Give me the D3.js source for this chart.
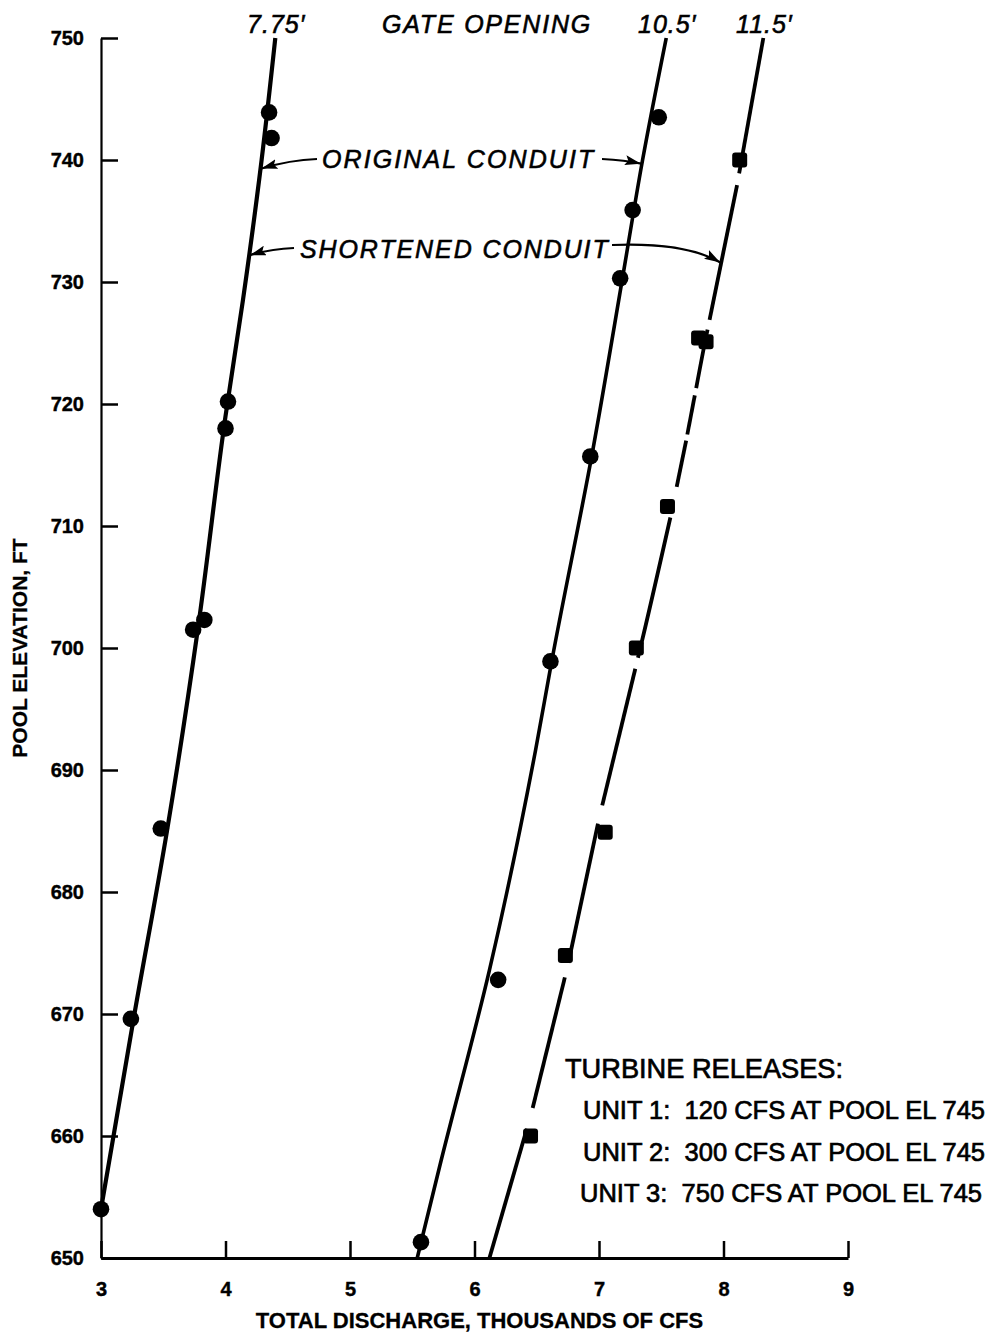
<!DOCTYPE html>
<html>
<head>
<meta charset="utf-8">
<script src="https://cdn.jsdelivr.net/npm/d3@7"></script>
<style>
  html, body { margin: 0; padding: 0; background: #fff; }
  svg { display: block; }
  text { font-family: "Liberation Sans", Arial, Helvetica, sans-serif; fill: #000; }
</style>
</head>
<body>
<svg id="chart" width="991" height="1333"></svg>
<script>
// ---------------- DATA ----------------
const xTicks = [3, 4, 5, 6, 7, 8, 9];
const yTicks = [650, 660, 670, 680, 690, 700, 710, 720, 730, 740, 750];

// Observed points (thousands of cfs, pool elevation ft)
const orig775X = [4.35, 4.37, 4.02, 4.00, 3.83, 3.74, 3.48, 3.24, 3.00];
const orig775Y = [743.9, 741.8, 720.2, 718.0, 702.3, 701.5, 685.2, 669.6, 654.0];

const orig105X = [7.48, 7.27, 7.17, 6.93, 6.61, 6.19, 5.57];
const orig105Y = [743.5, 735.9, 730.3, 715.7, 698.9, 672.8, 651.3];

const short115X = [8.13, 7.80, 7.86, 7.55, 7.30, 7.05, 6.73, 6.45];
const short115Y = [740.0, 725.4, 725.1, 711.6, 700.0, 684.9, 674.8, 660.0];

// Rating curves (as drawn)
const fit775X = [3.00, 3.26, 3.53, 3.78, 4.00, 4.14, 4.29, 4.40];
const fit775Y = [654.0, 669.5, 685.0, 701.7, 719.0, 728.5, 740.0, 750.0];

const fit105X = [5.54, 5.72, 6.12, 6.49, 6.62, 6.95, 7.19, 7.35, 7.54];
const fit105Y = [650.0, 657.5, 673.6, 691.6, 698.9, 716.2, 730.4, 740.0, 750.0];

const fit115X = [6.12, 6.46, 6.75, 7.00, 7.32, 7.58, 7.70, 7.85, 8.11, 8.32];
const fit115Y = [650.0, 662.0, 674.0, 686.0, 699.5, 711.0, 717.0, 725.0, 738.0, 750.0];

// Breaks in the 11.5' curve (elevation ranges, ft)
const gap115Lo = [737.95, 726.1, 720.7, 717.0, 710.7, 698.3, 685.6, 673.0, 660.6];
const gap115Hi = [738.9, 726.9, 721.3, 717.5, 713.2, 699.2, 687.1, 674.2, 662.3];

const gateLabels = ["7.75\u2032", "10.5\u2032", "11.5\u2032"];
const legendTitle = "TURBINE RELEASES:";
const legendLines = [
  "UNIT 1:  120 CFS AT POOL EL 745",
  "UNIT 2:  300 CFS AT POOL EL 745",
  "UNIT 3:  750 CFS AT POOL EL 745"
];

// ---------------- SCALES ----------------
const svg = d3.select("#chart");
const x = d3.scaleLinear().domain([3, 9]).range([101, 848]);
const y = d3.scaleLinear().domain([650, 750]).range([1258, 38]);

const zip = (xs, ys) => xs.map((v, i) => [v, ys[i]]);
// x on a curve at a given elevation (linear between drawn anchors)
function xAt(xs, ys, e) {
  for (let i = 0; i < ys.length - 1; i++) {
    const a = ys[i], b = ys[i + 1];
    if ((e - a) * (e - b) <= 0) {
      const t = (e - a) / (b - a);
      return xs[i] + t * (xs[i + 1] - xs[i]);
    }
  }
  return e < ys[0] ? xs[0] : xs[xs.length - 1];
}

const line = d3.line().x(d => x(d[0])).y(d => y(d[1])).curve(d3.curveMonotoneY);

// ---------------- AXES ----------------
const yAxis = d3.axisLeft(y).tickValues(yTicks).tickSize(-17).tickSizeOuter(0).tickPadding(17);
const gy = svg.append("g").attr("transform", `translate(${x(3)},0)`).call(yAxis);
gy.select(".domain").attr("stroke", "#000").attr("stroke-width", 2.2);
gy.selectAll(".tick line").attr("stroke", "#000").attr("stroke-width", 2.5);
gy.selectAll(".tick text").attr("font-size", 20).attr("font-weight", "bold")
  .attr("stroke", "#000").attr("stroke-width", 0.4);

const xAxis = d3.axisBottom(x).tickValues(xTicks).tickSize(-17).tickSizeOuter(0).tickPadding(24)
  .tickFormat(d3.format("d"));
const gx = svg.append("g").attr("transform", `translate(0,${y(650)})`).call(xAxis);
gx.select(".domain").attr("stroke", "#000").attr("stroke-width", 2.8);
gx.selectAll(".tick line").attr("stroke", "#000").attr("stroke-width", 2.5);
gx.selectAll(".tick text").attr("font-size", 20).attr("font-weight", "bold")
  .attr("stroke", "#000").attr("stroke-width", 0.4);

svg.append("text")
  .attr("x", (x(3) + x(9)) / 2 + 5).attr("y", 1328)
  .attr("text-anchor", "middle").attr("font-size", 22).attr("font-weight", "bold")
  .attr("stroke", "#000").attr("stroke-width", 0.3)
  .text("TOTAL DISCHARGE, THOUSANDS OF CFS");

svg.append("text")
  .attr("transform", "rotate(-90)")
  .attr("x", -(y(650) + y(750)) / 2).attr("y", 27)
  .attr("text-anchor", "middle").attr("font-size", 21).attr("font-weight", "bold")
  .attr("stroke", "#000").attr("stroke-width", 0.3)
  .text("POOL ELEVATION, FT");

// ---------------- CURVES ----------------
svg.append("path").datum(zip(fit775X, fit775Y))
  .attr("d", line).attr("fill", "none").attr("stroke", "#000").attr("stroke-width", 4.2);
svg.append("path").datum(zip(fit105X, fit105Y))
  .attr("d", line).attr("fill", "none").attr("stroke", "#000").attr("stroke-width", 3.6);

// broken 11.5' curve
const gaps = gap115Lo.map((lo, i) => [lo, gap115Hi[i]]).sort((a, b) => a[0] - b[0]);
const segs = [];
let start = 650;
gaps.forEach(([lo, hi]) => { segs.push([start, lo]); start = hi; });
segs.push([start, 750]);
segs.forEach(([e0, e1]) => {
  const pts = [[xAt(fit115X, fit115Y, e0), e0]];
  fit115Y.forEach((e, i) => { if (e > e0 && e < e1) pts.push([fit115X[i], e]); });
  pts.push([xAt(fit115X, fit115Y, e1), e1]);
  svg.append("path").datum(pts).attr("d", line)
    .attr("fill", "none").attr("stroke", "#000").attr("stroke-width", 3.8);
});

// ---------------- MARKERS ----------------
svg.append("g").selectAll("circle").data(zip(orig775X, orig775Y).concat(zip(orig105X, orig105Y)))
  .join("circle").attr("cx", d => x(d[0])).attr("cy", d => y(d[1])).attr("r", 8.3).attr("fill", "#000");

svg.append("g").selectAll("rect").data(zip(short115X, short115Y))
  .join("rect").attr("x", d => x(d[0]) - 7.5).attr("y", d => y(d[1]) - 7.5)
  .attr("width", 15).attr("height", 15).attr("rx", 3).attr("fill", "#000");

// ---------------- GATE LABELS ----------------
const tops = [[fit775X, fit775Y], [fit105X, fit105Y], [fit115X, fit115Y]];
tops.forEach(([xs, ys], i) => {
  svg.append("text").attr("x", x(xAt(xs, ys, 750)) + 1).attr("y", 33)
    .attr("text-anchor", "middle").attr("font-size", 25).attr("font-style", "italic")
    .attr("letter-spacing", 1).attr("stroke", "#000").attr("stroke-width", 0.6)
    .text(gateLabels[i]);
});
svg.append("text").attr("x", 487).attr("y", 33).attr("text-anchor", "middle")
  .attr("font-size", 25).attr("font-style", "italic").attr("letter-spacing", 1.8)
  .attr("stroke", "#000").attr("stroke-width", 0.6)
  .text("GATE OPENING");

// ---------------- ANNOTATIONS ----------------
const defs = svg.append("defs");
defs.append("marker").attr("id", "ah").attr("viewBox", "0 0 16 10")
  .attr("refX", 16).attr("refY", 5).attr("markerWidth", 16).attr("markerHeight", 10)
  .attr("markerUnits", "userSpaceOnUse").attr("orient", "auto")
  .append("path").attr("d", "M0,0 L16,5 L0,10 L3,5 Z").attr("fill", "#000");

function tip(xs, ys, e) { return [x(xAt(xs, ys, e)), y(e)]; }
function arrow(d) {
  svg.append("path").attr("d", d).attr("fill", "none").attr("stroke", "#000")
    .attr("stroke-width", 2.2).attr("marker-end", "url(#ah)");
}

const t1 = tip(fit775X, fit775Y, 739.3);
const t2 = tip(fit105X, fit105Y, 739.7);
const t3 = tip(fit775X, fit775Y, 732.2);
const t4 = tip(fit115X, fit115Y, 731.6);

arrow(`M317,159 Q290,160 ${t1[0] + 1},${t1[1]}`);
arrow(`M602,159 Q625,160 ${t2[0] - 1},${t2[1]}`);
arrow(`M294,248 Q270,249 ${t3[0] + 1},${t3[1]}`);
arrow(`M612,245 Q685,242 ${t4[0] - 1},${t4[1]}`);

svg.append("text").attr("x", 322).attr("y", 168).attr("font-size", 25)
  .attr("font-style", "italic").attr("letter-spacing", 2.1)
  .attr("stroke", "#000").attr("stroke-width", 0.6).text("ORIGINAL CONDUIT");
svg.append("text").attr("x", 300).attr("y", 258).attr("font-size", 25)
  .attr("font-style", "italic").attr("letter-spacing", 1.9)
  .attr("stroke", "#000").attr("stroke-width", 0.6).text("SHORTENED CONDUIT");

// ---------------- LEGEND TEXT ----------------
svg.append("text").attr("x", 565).attr("y", 1078).attr("font-size", 27.2)
  .attr("stroke", "#000").attr("stroke-width", 0.7).text(legendTitle);
legendLines.forEach((s, i) => {
  svg.append("text").attr("x", i === 2 ? 580 : 583).attr("y", 1119 + i * 41.5)
    .attr("font-size", 25.5).attr("stroke", "#000").attr("stroke-width", 0.7)
    .attr("xml:space", "preserve").style("white-space", "pre").text(s);
});
</script>
</body>
</html>
